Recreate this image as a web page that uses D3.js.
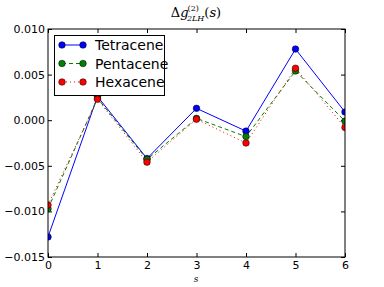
<!DOCTYPE html>
<html>
<head>
<meta charset="utf-8">
<script src="https://cdn.jsdelivr.net/npm/d3@7"></script>
<style>
  body { margin: 0; background: #fff; }
  svg text { font-family: "DejaVu Sans", sans-serif; }
</style>
</head>
<body>
<div id="chart"></div>
<script>
var sValues = [0, 1, 2, 3, 4, 5, 6];
var tetracene = [-0.0128, 0.0026, -0.0042, 0.0013, -0.0012, 0.0078, 0.0009];
var pentacene = [-0.0097, 0.0024, -0.0043, 0.0002, -0.0018, 0.0054, -0.0001];
var hexacene = [-0.0093, 0.0023, -0.0046, 0.0001, -0.0025, 0.0057, -0.0008];
var yTicks = [-0.015, -0.010, -0.005, 0.000, 0.005, 0.010];
var xTicks = [0, 1, 2, 3, 4, 5, 6];

var series = [
    {name: "Tetracene", values: tetracene, color: "#0000ff", dash: null},
    {name: "Pentacene", values: pentacene, color: "#007f00", dash: "4,3"},
    {name: "Hexacene", values: hexacene, color: "#ff0000", dash: "1,3"}
];

var W = 384, H = 287;
var pLeft = 48, pRight = 345, pTop = 29, pBottom = 257;

var svg = d3.select("#chart").append("svg")
    .attr("width", W)
    .attr("height", H);

var x = d3.scaleLinear().domain([0, 6]).range([pLeft, pRight]);
var y = d3.scaleLinear().domain([-0.015, 0.010]).range([pBottom, pTop]);

// ticks inside, on all four sides (classic matplotlib)
var fmt = function(d){ return d3.format(".3f")(d).replace("-", "\u2212"); };

svg.append("g").attr("transform", "translate(0," + pBottom + ")")
    .call(d3.axisBottom(x).tickValues(xTicks).tickSize(-4).tickPadding(4).tickFormat(d3.format("d")));
svg.append("g").attr("transform", "translate(0," + pTop + ")")
    .call(d3.axisTop(x).tickValues(xTicks).tickSize(-4).tickFormat(""));
svg.append("g").attr("transform", "translate(" + pLeft + ",0)")
    .call(d3.axisLeft(y).tickValues(yTicks).tickSize(-4).tickPadding(3).tickFormat(fmt));
svg.append("g").attr("transform", "translate(" + pRight + ",0)")
    .call(d3.axisRight(y).tickValues(yTicks).tickSize(-4).tickFormat(""));

svg.selectAll(".domain").remove();
svg.selectAll(".tick line").attr("stroke", "#000");
svg.selectAll(".tick text").attr("fill", "#000").style("font-size", "11px")
    .style("font-family", "'DejaVu Sans', sans-serif");

svg.append("defs").append("clipPath").attr("id", "clip")
    .append("rect").attr("x", pLeft).attr("y", pTop)
    .attr("width", pRight - pLeft).attr("height", pBottom - pTop);

var line = d3.line()
    .x(function(d, i){ return x(sValues[i]); })
    .y(function(d){ return y(d); });

var plot = svg.append("g").attr("clip-path", "url(#clip)");

series.forEach(function(s){
    plot.append("path")
        .datum(s.values)
        .attr("d", line)
        .attr("fill", "none")
        .attr("stroke", s.color)
        .attr("stroke-width", 1)
        .attr("stroke-dasharray", s.dash);
});

series.forEach(function(s){
    plot.selectAll(null)
        .data(s.values)
        .enter().append("circle")
        .attr("cx", function(d, i){ return x(sValues[i]); })
        .attr("cy", function(d){ return y(d); })
        .attr("r", 3.3)
        .attr("fill", s.color)
        .attr("stroke", "#000")
        .attr("stroke-width", 0.5);
});

// frame
svg.append("rect")
    .attr("x", pLeft).attr("y", pTop)
    .attr("width", pRight - pLeft).attr("height", pBottom - pTop)
    .attr("fill", "none").attr("stroke", "#000").attr("stroke-width", 1);

// legend
var lg = svg.append("g");
lg.append("rect")
    .attr("x", 54.5).attr("y", 35.5)
    .attr("width", 110).attr("height", 60)
    .attr("fill", "#fff").attr("stroke", "#000").attr("stroke-width", 1);

series.forEach(function(s, i){
    var ly = 45 + i * 18.5;
    lg.append("line")
        .attr("x1", 62).attr("x2", 83).attr("y1", ly).attr("y2", ly)
        .attr("stroke", s.color).attr("stroke-width", 1)
        .attr("stroke-dasharray", s.dash);
    [62, 83].forEach(function(px){
        lg.append("circle").attr("cx", px).attr("cy", ly).attr("r", 3.3)
            .attr("fill", s.color).attr("stroke", "#000").attr("stroke-width", 0.5);
    });
    lg.append("text")
        .attr("x", 95).attr("y", ly + 5)
        .style("font-size", "14px")
        .text(s.name);
});

// title
var title = svg.append("text")
    .attr("x", 196).attr("y", 17)
    .attr("text-anchor", "middle")
    .style("font-family", "'DejaVu Serif', serif")
    .style("font-size", "13px");
title.append("tspan").text("\u0394");
title.append("tspan").style("font-style", "italic").text("g");
title.append("tspan").attr("dy", -6).style("font-size", "8px").attr("dx", -1).text("(2)");
title.append("tspan").attr("dy", 10).attr("dx", -12).style("font-size", "8px").style("font-style", "italic").text("2LH");
title.append("tspan").attr("dy", -4).text("(");
title.append("tspan").style("font-style", "italic").text("s");
title.append("tspan").text(")");

// x label
svg.append("text")
    .attr("x", 196).attr("y", 282)
    .attr("text-anchor", "middle")
    .style("font-family", "'DejaVu Serif', serif")
    .style("font-style", "italic")
    .style("font-size", "9px")
    .text("s");
</script>
</body>
</html>
